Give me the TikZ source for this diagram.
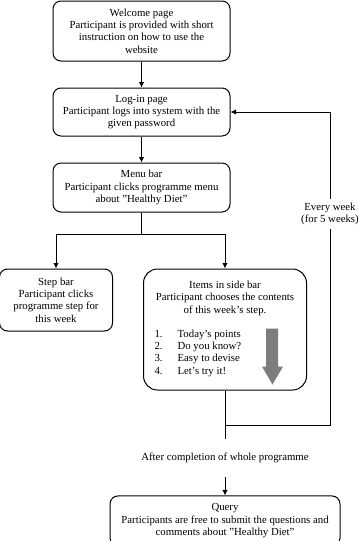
\documentclass[tikz,border=0pt]{standalone}
\usepackage{fontspec}
\setmainfont{Liberation Serif}
\usepackage{tikz}
\usetikzlibrary{arrows.meta,calc,positioning}
\definecolor{ArrowGrey}{RGB}{125,125,125}

\begin{document}
\begin{tikzpicture}[>={Latex[length=5.5pt,width=5.5pt]}, line width=1pt,
    every node/.style={font=\fontsize{10.8}{12.4}\selectfont},
    pagebox/.style={draw, rounded corners=8pt, minimum width=177pt,
        align=center, inner sep=2pt},
    sidebox/.style={draw, rounded corners=14pt, align=center, inner sep=2pt},
    note/.style={align=center, inner sep=3pt}]
\useasboundingbox (0,0) rectangle (358pt,-541pt);

\node[pagebox, minimum height=60pt] (welcome) at (141.5pt,-31pt)
    {Welcome page\\Participant is provided with short\\instruction on how to use the\\website};
\node[pagebox, minimum height=48pt, below=26pt of welcome] (login)
    {Log-in page\\Participant logs into system with the\\given password};
\node[pagebox, minimum height=49pt, below=26pt of login] (menu)
    {Menu bar\\Participant clicks programme menu\\about "Healthy Diet"};
\coordinate (split) at ($(menu.south)+(0,-22pt)$);

% the two branches under the menu bar
\node[sidebox, rounded corners=8pt, minimum width=113pt, minimum height=62pt,
    below=56pt of menu.south west, xshift=3.5pt] (step)
    {Step bar\\Participant clicks\\programme step for\\this week};
\node[sidebox, minimum width=163pt, minimum height=121pt,
    below=56pt of menu.south east, xshift=-5.5pt] (items)
    {Items in side bar\\Participant chooses the contents\\of this week's step.\\[12pt]
     \makebox[141pt][l]{\begin{tabular}{@{}l@{\hspace{15pt}}l@{}}
        1. & Today's points\\ 2. & Do you know?\\
        3. & Easy to devise\\ 4. & Let's try it!\end{tabular}}};
\fill[ArrowGrey] ($(items.south east)+(-41pt,62pt)$) -- ++(12pt,0) -- ++(0,-38pt)
    -- ++(5pt,0) -- ++(-10.5pt,-18pt) -- ++(-10.5pt,18pt) -- ++(4pt,0) -- cycle;

\coordinate (merge) at ($(items.south)+(0,-35pt)$);
\node[note, inner ysep=14pt, below=48pt of items] (after)
    {After completion of whole programme};
\node[pagebox, minimum width=230pt, minimum height=50pt, below=18pt of after] (query)
    {Query\\Participants are free to submit the questions and\\comments about "Healthy Diet"};
\node[note] (every) at (330pt,-214pt) {Every week\\(for 5 weeks)};

\draw[->] (welcome) -- (login);
\draw[->] (login) -- (menu);
\draw (menu) -- (split);
\draw[->] (split) -| (step);
\draw[->] (split) -| (items);
\draw (items) -- (after);
\draw[->] (after) -- (query);
\draw (merge) -| (every);
\draw[->] (every) |- (login);
\end{tikzpicture}
\end{document}
